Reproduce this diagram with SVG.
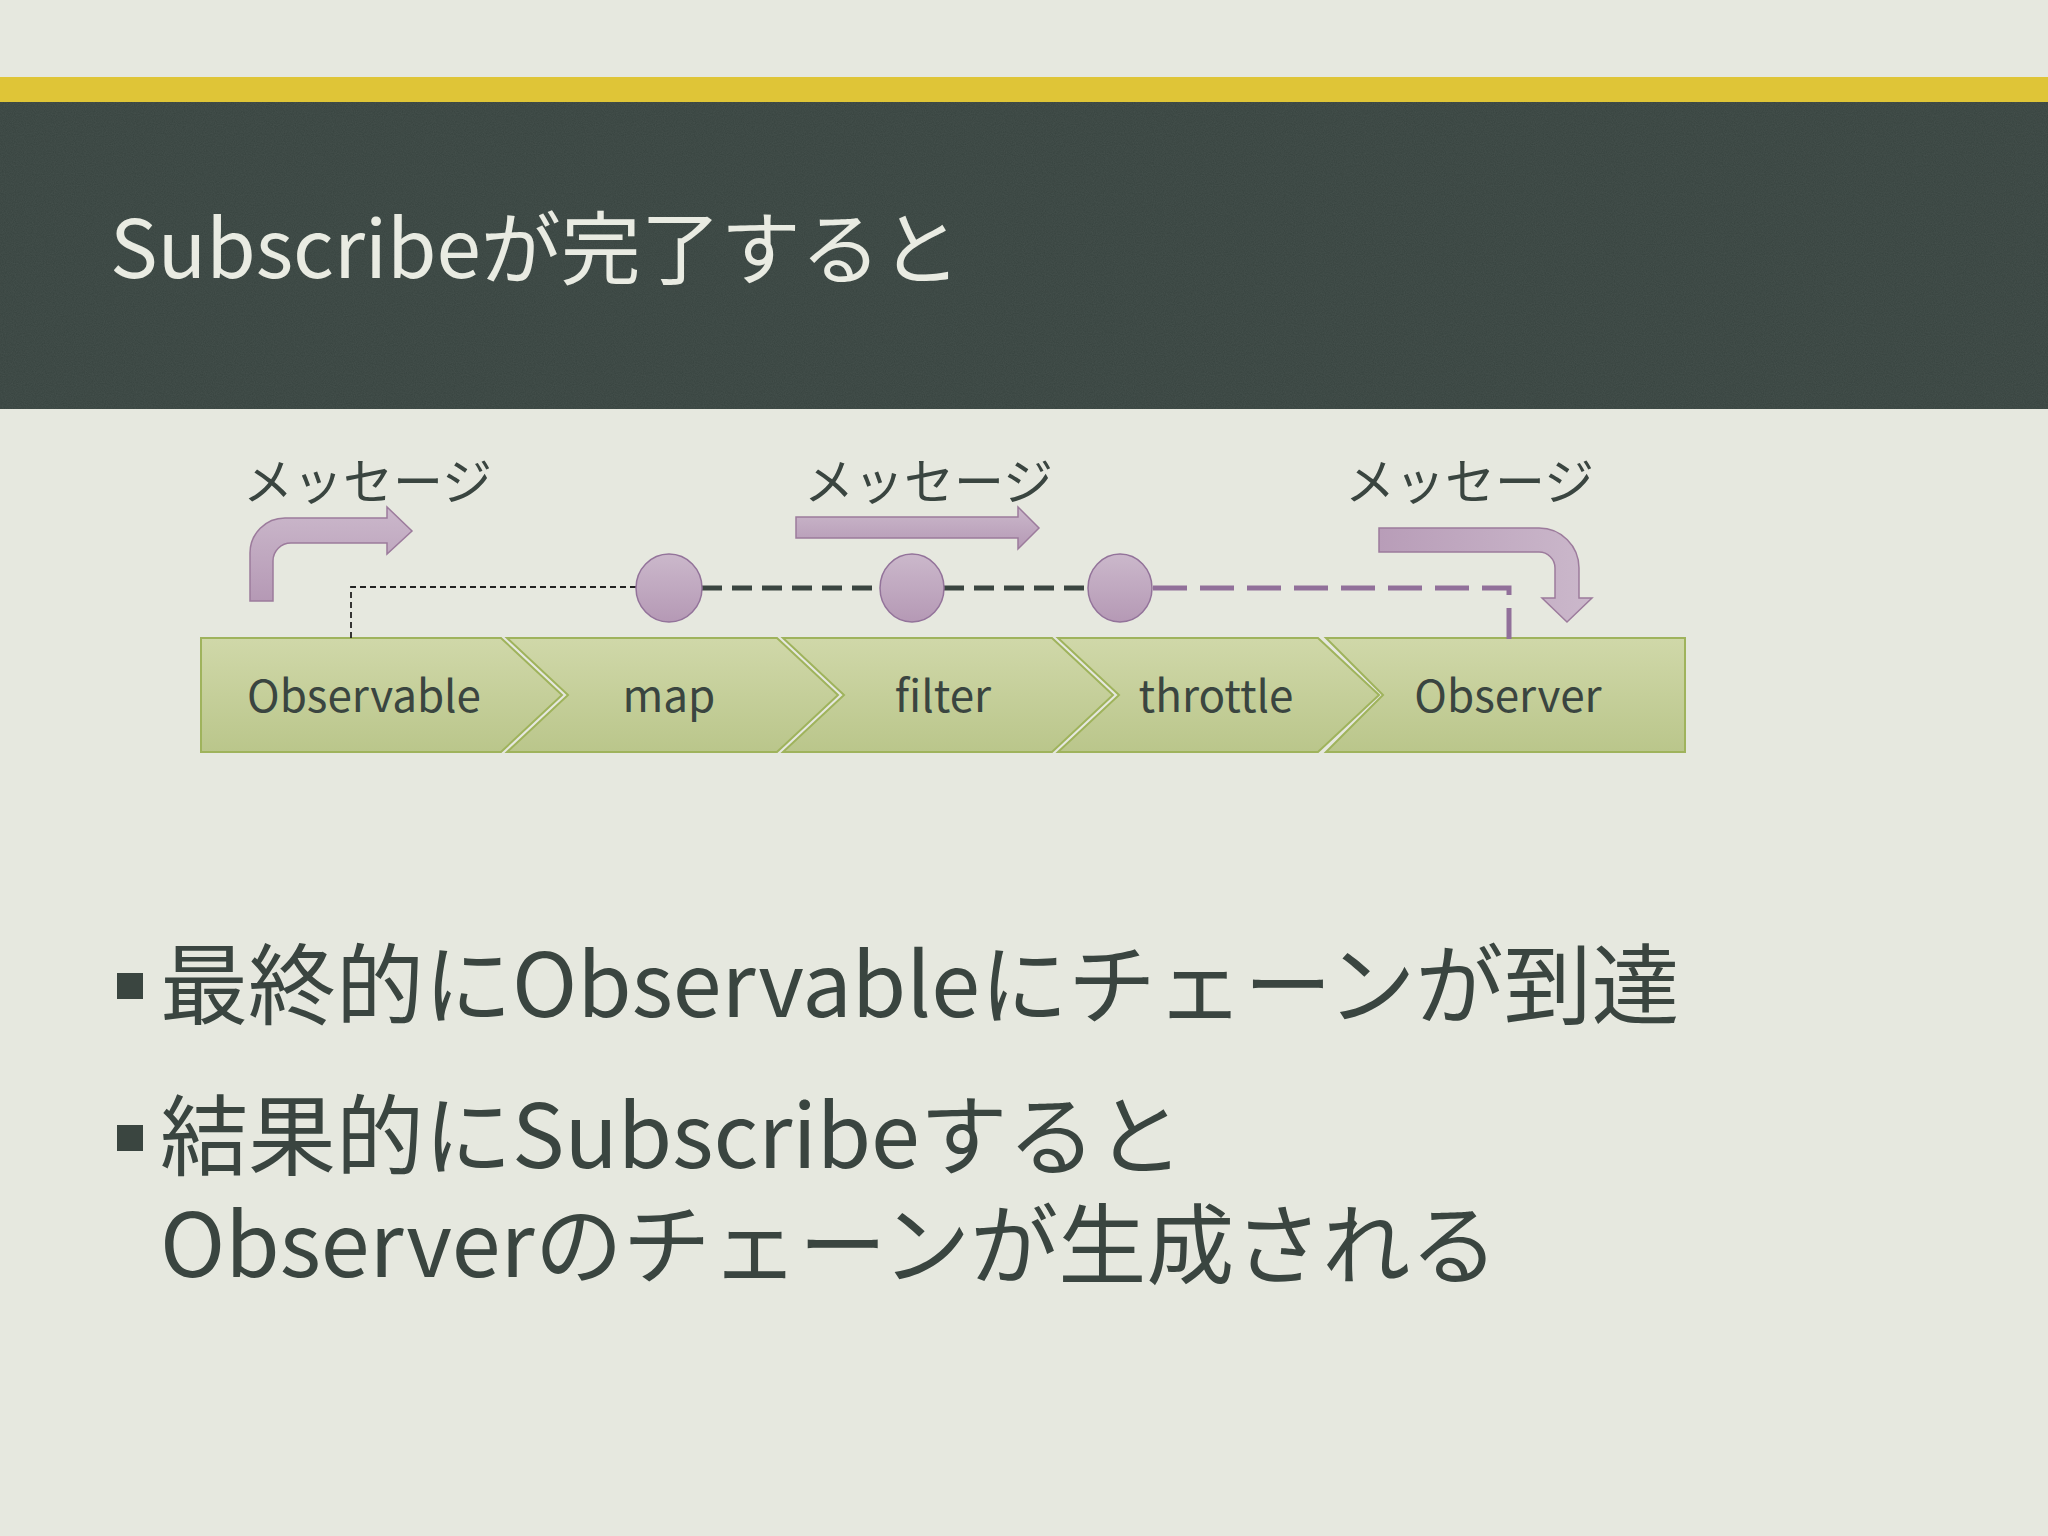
<svg xmlns="http://www.w3.org/2000/svg" width="2048" height="1536" viewBox="0 0 2048 1536">
<defs>
<linearGradient id="gGreen" x1="0" y1="0" x2="0" y2="1"><stop offset="0" stop-color="#d0d8a9"/><stop offset="1" stop-color="#bac68b"/></linearGradient>
<linearGradient id="gPurple" x1="0" y1="0" x2="0" y2="1"><stop offset="0" stop-color="#cbb8cb"/><stop offset="1" stop-color="#b599b5"/></linearGradient>
<linearGradient id="gPurpleH" x1="0" y1="0" x2="1" y2="0"><stop offset="0" stop-color="#b89db8"/><stop offset="1" stop-color="#cbb8cb"/></linearGradient>
<filter id="chalk" x="0" y="0" width="1" height="1">
<feTurbulence type="fractalNoise" baseFrequency="0.9" numOctaves="2" seed="3" result="n"/>
<feColorMatrix in="n" type="matrix" values="0 0 0 0 0.55  0 0 0 0 0.6  0 0 0 0 0.58  0 0 0 0.1 0"/>
</filter>
<style>
.lbl{font-family:"Noto Sans CJK JP","Open Sans",sans-serif;font-size:44px;fill:#3a4540;text-anchor:middle}
.msg{font-family:"Noto Sans CJK JP",sans-serif;font-size:50px;fill:#3a4540}
.body{font-family:"Noto Sans CJK JP",sans-serif;font-size:88px;fill:#3a4540}
.chev{fill:url(#gGreen);stroke:#9fb35c;stroke-width:2}
.arrow{fill:url(#gPurple);stroke:#9c7b9c;stroke-width:1.5}
.dot{fill:url(#gPurple);stroke:#93739a;stroke-width:1.5}
</style>
</defs>
<rect x="0" y="0" width="2048" height="1536" fill="#e6e8df"/>
<rect x="0" y="77" width="2048" height="25" fill="#dfc537"/>
<rect x="0" y="102" width="2048" height="307" fill="#37433f"/>
<rect x="0" y="102" width="2048" height="307" filter="url(#chalk)"/>
<text x="110" y="278" font-family="Noto Sans CJK JP, sans-serif" font-size="80" fill="#e9ebe2">Subscribeが完了すると</text>

<g id="chevrons">
<g id="n-observable">
<path class="chev" d="M201 638 H501 L562 695 L501 752 H201 Z"/>
<text class="lbl" x="364" y="712">Observable</text>
</g>
<g id="n-map">
<path class="chev" d="M507 638 H777 L838 695 L777 752 H507 L568 695 Z"/>
<text class="lbl" x="669" y="712">map</text>
</g>
<g id="n-filter">
<path class="chev" d="M783 638 H1052 L1113 695 L1052 752 H783 L844 695 Z"/>
<text class="lbl" x="943" y="712">filter</text>
</g>
<g id="n-throttle">
<path class="chev" d="M1058 638 H1318 L1379 695 L1318 752 H1058 L1119 695 Z"/>
<text class="lbl" x="1216" y="712">throttle</text>
</g>
<g id="n-observer">
<path class="chev" d="M1326 638 H1685 V752 H1326 L1383 695 Z"/>
<text class="lbl" x="1508" y="712">Observer</text>
</g>
</g>

<g id="connectors">
<path d="M351 638 V587 H637" fill="none" stroke="#222" stroke-width="1.8" stroke-dasharray="6 4"/>
<path d="M702 588 H880 M944 588 H1088" fill="none" stroke="#3a4540" stroke-width="5" stroke-dasharray="20 10"/>
<path d="M1153 588 H1509 V639" fill="none" stroke="#91709a" stroke-width="5" stroke-dasharray="34 13"/>
</g>

<g id="n-dot-map"><ellipse class="dot" cx="669" cy="588" rx="33" ry="34"/></g>
<g id="n-dot-filter"><ellipse class="dot" cx="912" cy="588" rx="32" ry="34"/></g>
<g id="n-dot-throttle"><ellipse class="dot" cx="1120" cy="588" rx="32" ry="34"/></g>

<g id="n-arrow1">
<path class="arrow" d="M250 601 V553 A35 35 0 0 1 285 518 H387 V507 L412 531 L387 554 V543 H291 A18 18 0 0 0 273 561 V601 Z"/>
<text class="msg" x="243" y="500">メッセージ</text>
</g>
<g id="n-arrow2">
<path class="arrow" d="M796 517 H1018 V507 L1039 528 L1018 549 V538 H796 Z"/>
<text class="msg" x="804" y="500">メッセージ</text>
</g>
<g id="n-arrow3">
<path class="arrow" style="fill:url(#gPurpleH)" d="M1379 528 H1539 A40 40 0 0 1 1579 568 V598 H1592 L1567 622 L1542 598 H1555 V568 A16 16 0 0 0 1539 552 H1379 Z"/>
<text class="msg" x="1345" y="500">メッセージ</text>
</g>

<g id="bullets">
<rect x="117" y="973" width="26" height="26" fill="#3a4540"/>
<text class="body" x="160" y="1017">最終的にObservableにチェーンが到達</text>
<rect x="117" y="1125" width="26" height="26" fill="#3a4540"/>
<text class="body"><tspan x="160" y="1168">結果的にSubscribeすると</tspan><tspan x="160" y="1277">Observerのチェーンが生成される</tspan></text>
</g>
</svg>
